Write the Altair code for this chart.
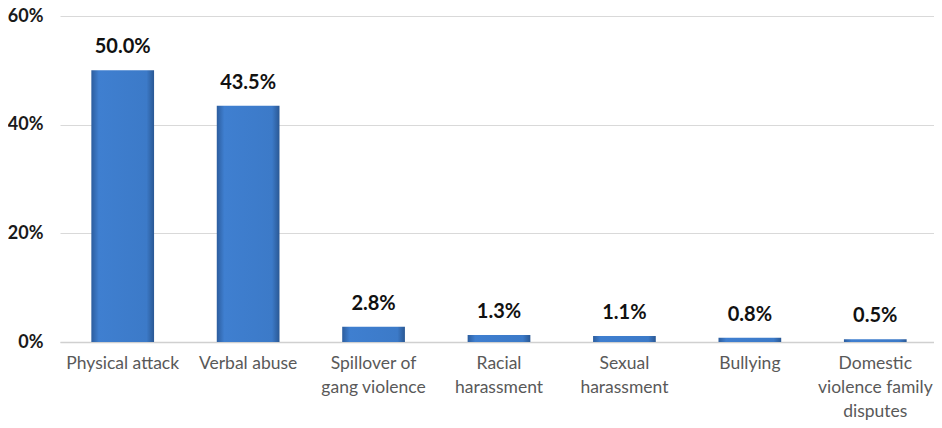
import altair as alt
import pandas as pd

categories = ["Physical attack", "Verbal abuse", "Spillover of\ngang violence",
              "Racial\nharassment", "Sexual\nharassment", "Bullying",
              "Domestic\nviolence family\ndisputes"]
values = [0.500, 0.435, 0.028, 0.013, 0.011, 0.008, 0.005]
labels = ["50.0%", "43.5%", "2.8%", "1.3%", "1.1%", "0.8%", "0.5%"]

df = pd.DataFrame({"cat": categories, "val": values, "lab": labels})

FONT = "Lato"

xscale = alt.Scale(paddingInner=0.5, paddingOuter=0.234, align=0.534)

x = alt.X("cat:N", sort=categories, title=None, scale=xscale,
          axis=alt.Axis(labelAngle=0, labelExpr="split(datum.label, '\\n')",
                        labelFont=FONT, labelFontSize=17.5, labelColor="#595959",
                        labelLineHeight=24, labelPadding=12, ticks=False,
                        domainColor="#d0d0d0", domainWidth=1.5, labelLimit=220))
y = alt.Y("val:Q", title=None,
          scale=alt.Scale(domain=[0, 0.6], nice=False),
          axis=alt.Axis(values=[0, 0.2, 0.4, 0.6], format=".0%", ticks=False,
                        domain=False, labelFont=FONT, labelFontSize=18,
                        labelFontWeight="bold", labelColor="#1a1a1a",
                        labelPadding=17, gridColor="#d9d9d9", gridWidth=1.2))

fill = {"x1": 0, "y1": 0, "x2": 1, "y2": 0, "gradient": "linear",
        "stops": [{"offset": 0, "color": "#2c5d9e"},
                  {"offset": 0.12, "color": "#3f7fd0"},
                  {"offset": 0.88, "color": "#3c7ac8"},
                  {"offset": 1, "color": "#2a5894"}]}

bars = alt.Chart(df).mark_bar(color=fill).encode(x=x, y=y)

text = alt.Chart(df).mark_text(font=FONT, fontSize=20, fontWeight="bold",
                               color="#111111", baseline="bottom", dy=-13).encode(
    x=alt.X("cat:N", sort=categories, scale=xscale), y="val:Q", text="lab:N")

chart = (bars + text).properties(
    width=874, height=326,
    autosize=alt.AutoSizeParams(type="none"),
    padding={"left": 52, "top": 8, "right": 0, "bottom": 90},
).configure_view(stroke=None)

chart.save("out.html", embed_options={"renderer": "svg", "actions": False})
